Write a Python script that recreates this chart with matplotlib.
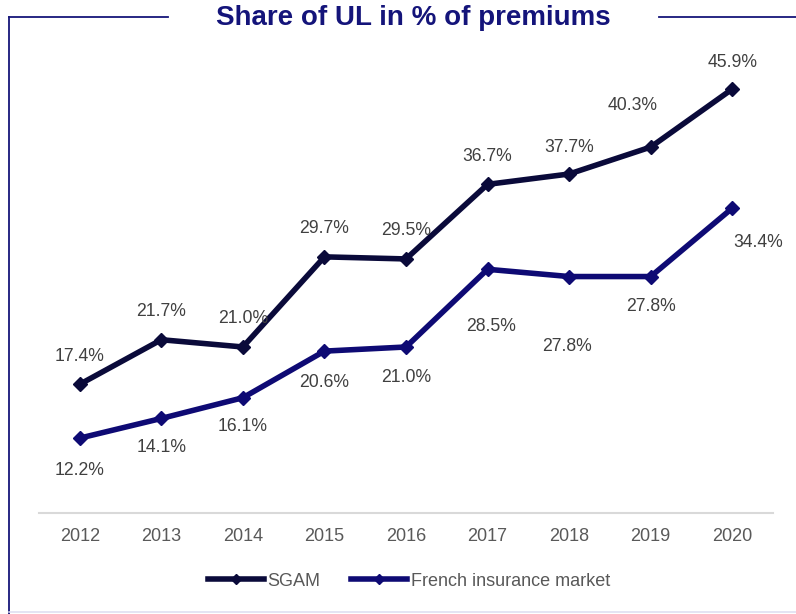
import matplotlib
matplotlib.use("Agg")
import matplotlib.pyplot as plt
from matplotlib.lines import Line2D

plt.rcParams['font.family'] = ['Liberation Sans', 'DejaVu Sans']

# data
anos = ["2012", "2013", "2014", "2015", "2016", "2017", "2018", "2019", "2020"]
sgam = [17.4, 21.7, 21.0, 29.7, 29.5, 36.7, 37.7, 40.3, 45.9]
mercado = [12.2, 14.1, 16.1, 20.6, 21.0, 28.5, 27.8, 27.8, 34.4]

# label offsets in pixels (dx, dy)
off_sgam = [(0, 28), (0, 28), (0, 28), (0, 28), (0, 28), (0, 28), (0, 27), (-18, 42), (0, 27)]
off_mercado = [(0, -32), (0, -29), (0, -29), (0, -31), (0, -31), (4, -57), (-2, -70), (0, -30), (26, -34)]

cor_sgam = "#0a0a3a"
cor_mercado = "#0e0a74"
cor_titulo = "#14147a"
cor_texto = "#404040"

W, H = 796, 614
fig = plt.figure(figsize=(W / 100, H / 100), dpi=100)
ax = fig.add_axes([39 / W, 1 - 512.7 / H, (773 - 39) / W, (512.7 - 46.6) / H])

x = list(range(len(anos)))
ax.plot(x, sgam, color=cor_sgam, lw=4, marker="D", ms=7.5, label="SGAM", zorder=3)
ax.plot(x, mercado, color=cor_mercado, lw=4, marker="D", ms=7.5,
        label="French insurance market", zorder=3)

#rotulos dos pontos
for i, v in enumerate(sgam):
    ax.annotate(f"{v:.1f}%", (i, v), xytext=off_sgam[i], textcoords="offset pixels",
                ha="center", va="center", fontsize=12.7, color=cor_texto)
for i, v in enumerate(mercado):
    ax.annotate(f"{v:.1f}%", (i, v), xytext=off_mercado[i], textcoords="offset pixels",
                ha="center", va="center", fontsize=12.7, color=cor_texto)

ax.set_xlim(-0.5, len(anos) - 0.5)
ax.set_ylim(5, 50)
ax.set_xticks(x)
ax.set_xticklabels(anos, fontsize=13, color="#595959")
ax.tick_params(axis="x", length=0, pad=11)
ax.set_yticks([])
for s in ["top", "right", "left"]:
    ax.spines[s].set_visible(False)
ax.spines["bottom"].set_color("#d9d9d9")
ax.spines["bottom"].set_linewidth(1.5)

leg = fig.legend(loc="center", bbox_to_anchor=(0.514, 1 - 581 / H), ncol=2, frameon=False,
                 fontsize=13, handlelength=3.1, handletextpad=0.2, columnspacing=1.7,
                 markerscale=0.65, labelcolor="#595959")

fig.text(413 / W, 1 - 18 / H, "Share of UL in % of premiums", ha="center", va="center",
         fontsize=20, fontweight="bold", color=cor_titulo)

# moldura
yt = 1 - 17 / H
xl = 9 / W
cor_moldura = "#16167a"
fig.add_artist(Line2D([xl, 168 / W], [yt, yt], color=cor_moldura, lw=1.3, transform=fig.transFigure))
fig.add_artist(Line2D([659 / W, 1], [yt, yt], color=cor_moldura, lw=1.3, transform=fig.transFigure))
fig.add_artist(Line2D([xl, xl], [yt, 0], color=cor_moldura, lw=1.3, transform=fig.transFigure))
fig.add_artist(Line2D([xl, 1], [2 / H, 2 / H], color="#dcdcf0", lw=1.1, transform=fig.transFigure))

fig.savefig("out.png", dpi=100)
